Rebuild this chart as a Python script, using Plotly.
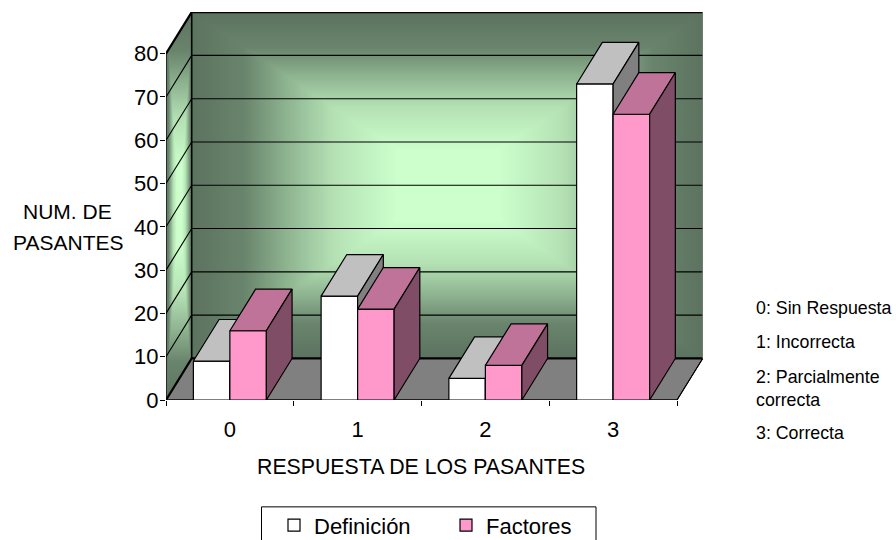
import numpy as np
import plotly.graph_objects as go

# Survey results
categories = [0, 1, 2, 3]
definicion = [9, 24, 5, 73]
factores = [16, 21, 8, 66]
y_ticks = [0, 10, 20, 30, 40, 50, 60, 70, 80]
series_names = ["Definición", "Factores"]
notes = ["0: Sin Respuesta", "1: Incorrecta", "2: Parcialmente", "correcta", "3: Correcta"]
note_rows = [308, 342, 377, 401, 434]

FIG_W, FIG_H = 896, 540
L, R, T, B = 166, 703, 12, 400.5       # plot box in page pixels
UX = 127.75                            # pixels per category
UY = 4.335                             # pixels per y unit
DX, DY = 25.7 / UX, 41.6 / UY          # depth of the 3-D box, in axis units
X0 = -0.5
X1 = 3.5
BAR_W = 36.5 / UX
FONT = "Liberation Sans, Arial, sans-serif"

x_range = [X0, X0 + (R - L) / UX]
y_range = [0, (B - T) / UY]


def to_x(px):
    return X0 + (px - L) / UX


def to_y(py):
    return (B - py) / UY


def paper_x(px):
    return (px - L) / (R - L)


def paper_y(py):
    return (B - py) / (B - T)


def shade(cx, hx, cy, hy, xs, ys):
    """Rectangular centre-out shading value on a pixel grid."""
    xx, yy = np.meshgrid(xs, ys)
    return np.maximum(np.abs(xx - cx) / hx, np.abs(yy - cy) / hy)


wall_scale = [
    [0, "rgb(204,255,204)"], [0.2, "rgb(204,255,204)"], [0.45, "rgb(180,225,180)"],
    [0.65, "rgb(138,175,140)"], [0.8, "rgb(105,132,108)"], [1, "rgb(92,115,95)"],
]
fig = go.Figure()

# Back wall
bx = np.arange(L + 25.7, R + 1, 2.0)
by = np.arange(T, B - 41.6 + 1, 2.0)
fig.add_trace(go.Heatmap(
    x=to_x(bx), y=to_y(by),
    z=shade((bx[0] + bx[-1]) / 2, (bx[-1] - bx[0]) / 2, (by[0] + by[-1]) / 2, (by[-1] - by[0]) / 2, bx, by),
    colorscale=wall_scale, zmin=0, zmax=1, showscale=False, zsmooth="best", hoverinfo="skip", showlegend=False,
))

# Side wall: the same shading, clipped to its parallelogram
sx = np.arange(L, L + 26.5, 1.0)
sy = np.arange(T, B + 1, 1.0)
sz = shade(L + 13, 13.5, (T + B) / 2, (B - T) / 2, sx, sy)
sxx, syy = np.meshgrid(sx, sy)
frac = (sxx - L) / 25.7
sz[(syy > B - frac * 41.6) | (syy < T + 41.6 - frac * 41.6)] = np.nan
fig.add_trace(go.Heatmap(
    x=to_x(sx), y=to_y(sy), z=sz,
    colorscale=wall_scale, zmin=0, zmax=1, showscale=False, hoverinfo="skip", showlegend=False,
))

LINE = "rgb(0,0,0)"


def polygon(xs, ys, fill, width=1.2, axes=("x", "y")):
    fig.add_trace(go.Scatter(
        x=xs, y=ys, mode="lines", fill="toself", fillcolor=fill,
        line=dict(color=LINE, width=width), hoverinfo="skip", showlegend=False,
        xaxis=axes[0], yaxis=axes[1],
    ))


def path(xs, ys, width=1.0, color=LINE):
    fig.add_trace(go.Scatter(
        x=xs, y=ys, mode="lines", line=dict(color=color, width=width),
        hoverinfo="skip", showlegend=False,
    ))


# Floor
polygon([X0, X1, X1 + DX, X0 + DX, X0], [0, 0, DY, DY, 0], "rgb(128,128,128)", width=1)

# Gridlines wrapping round the side and back walls
top = max(y_ticks)
grid_x, grid_y = [], []
for v in y_ticks[1:-1]:
    grid_x += [X0, X0 + DX, X1 + DX, None]
    grid_y += [v, v + DY, v + DY, None]
path(grid_x, grid_y, width=1.1)

# Box edges
path([X0, X0], [0, top], width=1.2)
path([X0 + DX, X0 + DX], [DY, top + DY], width=1.6)
path([X0, X0 + DX, X1 + DX], [top, top + DY, top + DY], width=2.2)
path([X0, X0 + DX, X1 + DX], [0, DY, DY], width=2.2)
path([X0, X1, X1 + DX], [0, 0, DY], width=1.1)
path([X1 + DX, X1 + DX], [DY, top + DY], width=1, color="rgb(110,110,110)")


def prism(values, start, front, roof, side, name, axes):
    """One series: real bars for the front faces, polygons for the depth faces."""
    fig.add_trace(go.Bar(
        x=categories, y=values, width=BAR_W, offset=start, name=name,
        marker=dict(color=front, line=dict(color=LINE, width=1.2)),
        xaxis=axes[0], yaxis=axes[1], hoverinfo="x+y+name",
    ))
    for c, v in zip(categories, values):
        a, b = c + start, c + start + BAR_W
        polygon([a, b, b + DX, a + DX, a], [v, v, v + DY, v + DY, v], roof, axes=axes)
        polygon([b, b + DX, b + DX, b, b], [0, DY, v + DY, v, 0], side, axes=axes)


# Each series gets its own overlaid axes so it paints above the walls and the previous series
prism(definicion, -BAR_W, "rgb(255,255,255)", "rgb(192,192,192)", "rgb(128,128,128)", series_names[0], ("x2", "y2"))
prism(factores, 0, "rgb(255,153,204)", "rgb(191,115,153)", "rgb(128,77,102)", series_names[1], ("x3", "y3"))

annotations = [
    dict(text="NUM. DE", x=67.5, y=212, size=21),
    dict(text="PASANTES", x=68, y=243, size=21),
    dict(text="RESPUESTA DE LOS PASANTES", x=420.5, y=468, size=21.3),
]
annotations = [
    dict(text=a["text"], xref="paper", yref="paper", x=paper_x(a["x"]), y=paper_y(a["y"]), showarrow=False,
         xanchor="center", yanchor="middle", font=dict(family=FONT, size=a["size"], color="black"))
    for a in annotations
]
for text, row in zip(notes, note_rows):
    annotations.append(dict(
        text=text, xref="paper", yref="paper", x=paper_x(754), y=paper_y(row), showarrow=False,
        xanchor="left", yanchor="middle", font=dict(family=FONT, size=17.8, color="black"),
    ))

fig.update_layout(
    width=FIG_W, height=FIG_H,
    margin=dict(l=L, r=FIG_W - R, t=T, b=FIG_H - B, autoexpand=False),
    paper_bgcolor="white", plot_bgcolor="rgba(0,0,0,0)",
    barmode="overlay",
    font=dict(family=FONT, color="black"),
    annotations=annotations,
    legend=dict(
        orientation="h", x=paper_x(274), y=paper_y(505), xanchor="left", yanchor="top",
        font=dict(family=FONT, size=22, color="black"), bgcolor="rgba(0,0,0,0)",
        entrywidth=127, entrywidthmode="pixels", itemclick=False, itemdoubleclick=False,
    ),
    shapes=[dict(
        type="rect", xref="paper", yref="paper", layer="below",
        x0=paper_x(261.5), x1=paper_x(596), y0=paper_y(550), y1=paper_y(507.5),
        line=dict(color="black", width=1), fillcolor="white",
    )],
    xaxis=dict(
        range=x_range, showgrid=False, zeroline=False, showline=False,
        tickmode="array", tickvals=categories, ticktext=[str(c) for c in categories],
        ticks="", tickfont=dict(family=FONT, size=22), ticklabelstandoff=14,
        minor=dict(tickmode="array", tickvals=[X0 + i for i in range(5)], ticks="outside", ticklen=5,
                   tickwidth=1, tickcolor="black", showgrid=False),
    ),
    yaxis=dict(
        range=y_range, showgrid=False, zeroline=False, showline=False,
        tickmode="array", tickvals=y_ticks, ticks="outside", ticklen=5, tickwidth=1, tickcolor="black",
        tickfont=dict(family=FONT, size=22), ticklabelstandoff=-3,
    ),
    xaxis2=dict(range=x_range, overlaying="x", anchor="y2", visible=False),
    yaxis2=dict(range=y_range, overlaying="y", anchor="x2", visible=False),
    xaxis3=dict(range=x_range, overlaying="x", anchor="y3", visible=False),
    yaxis3=dict(range=y_range, overlaying="y", anchor="x3", visible=False),
)

fig.write_html("out.html", config=dict(displayModeBar=False))
